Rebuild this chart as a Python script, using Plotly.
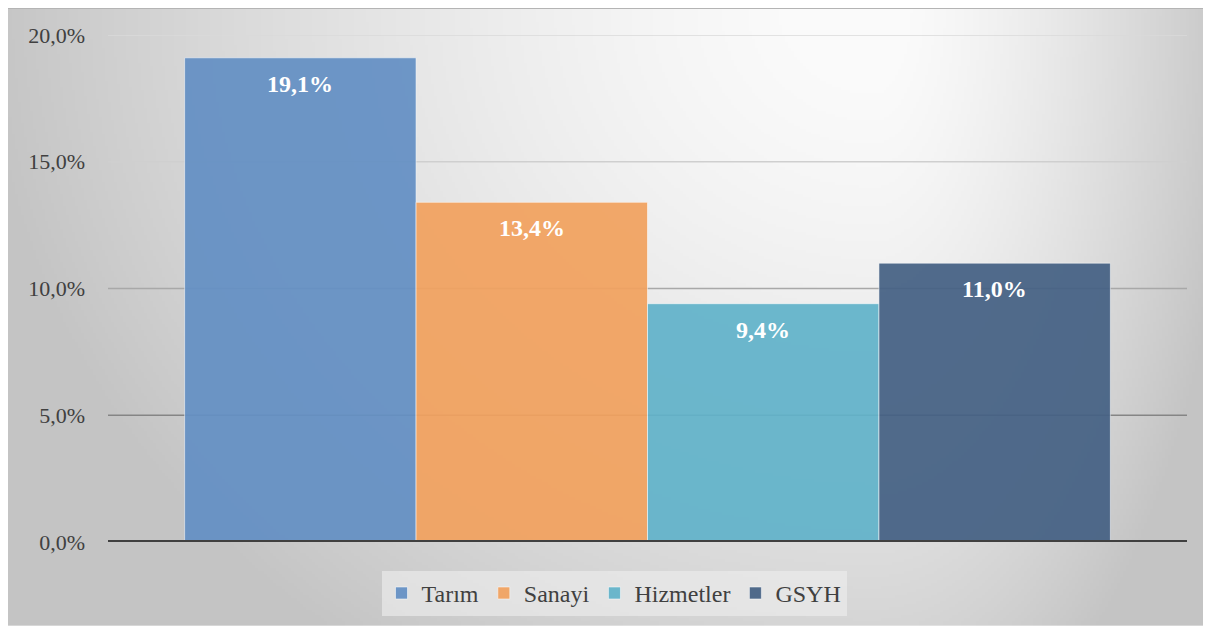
import base64
import math
import struct
import zlib

import plotly.graph_objects as go

# data
sectors = ['Tarım', 'Sanayi', 'Hizmetler', 'GSYH']
growth = [19.1, 13.4, 9.4, 11.0]
labels = ['19,1%', '13,4%', '9,4%', '11,0%']
colors = ['#6490c4', '#f2a25f', '#62b3ca', '#456184']
tick_vals = [0, 5, 10, 15, 20]
tick_text = ['0,0%', '5,0%', '10,0%', '15,0%', '20,0%']
grid_colors = {5: '#858585', 10: '#a8a8a8', 15: '#cfcfcf', 20: '#dadada'}

SERIF = 'Liberation Serif'

# the page puts the figure 8px in from the top-left corner
W, H = 1203, 620
L, R, T, B = 100, 24, 27, 84
pw, ph = W - L - R, H - T - B


def gradient_png(w, h):
    # grey radial-ish background like the excel chart area
    rows = []
    cx, cy = 0.72, 0.0
    for j in range(h):
        v = j / (h - 1)
        row = bytearray([0])
        for i in range(w):
            u = i / (w - 1)
            rx = 0.78 if u < cx else 0.32
            d = math.sqrt(((u - cx) / rx) ** 2 + ((v - cy) / 1.35) ** 2)
            val = 252 - 60 * d ** 1.5
            val = max(196, min(250, val))
            row.append(int(val))
        rows.append(bytes(row))
    raw = b''.join(rows)

    def chunk(tag, data):
        c = tag + data
        return struct.pack('>I', len(data)) + c + struct.pack('>I', zlib.crc32(c) & 0xffffffff)

    png = b'\x89PNG\r\n\x1a\n'
    png += chunk(b'IHDR', struct.pack('>IIBBBBB', w, h, 8, 0, 0, 0, 0))
    png += chunk(b'IDAT', zlib.compress(raw, 9))
    png += chunk(b'IEND', b'')
    return 'data:image/png;base64,' + base64.b64encode(png).decode()


fig = go.Figure()
for name, val, col in zip(sectors, growth, colors):
    fig.add_trace(go.Bar(
        x=[''], y=[val], name=name,
        marker=dict(color=col, line=dict(color='rgba(255,255,255,0.55)', width=1)),
        opacity=0.93,
        hoverinfo='skip',
    ))

# value labels inside the top of each bar; bar centres in paper coords
gap = 0.142
gw = (1 - gap) / len(growth)
for k, (val, lab) in enumerate(zip(growth, labels)):
    fig.add_annotation(
        x=gap / 2 + gw * (k + 0.5), xref='paper', xanchor='center',
        y=val, yref='y', yanchor='middle',
        text='<b>' + lab + '</b>', showarrow=False, yshift=-26,
        font=dict(family=SERIF, size=24, color='white'),
    )

# graded gridlines
shapes = []
for t in tick_vals[1:]:
    shapes.append(dict(type='line', xref='paper', yref='y', x0=0, x1=1, y0=t, y1=t,
                       line=dict(color=grid_colors[t], width=1.5), layer='below'))
# zero line
shapes.append(dict(type='line', xref='paper', yref='y', x0=0, x1=1, y0=0, y1=0,
                   line=dict(color='#404040', width=4), layer='above'))
# top frame edge
top_y = (H - B) / ph
shapes.append(dict(type='line', xref='paper', yref='paper', x0=-L / pw, x1=(W - L) / pw,
                   y0=top_y, y1=top_y, line=dict(color='#b4b4b4', width=2), layer='above'))

fig.update_layout(
    width=W, height=H,
    margin=dict(l=L, r=R, t=T, b=B),
    paper_bgcolor='white',
    plot_bgcolor='rgba(0,0,0,0)',
    barmode='group',
    bargap=gap,
    bargroupgap=0,
    shapes=shapes,
    images=[dict(
        source=gradient_png(402, 208),
        xref='paper', yref='paper',
        x=-L / pw, y=top_y,
        sizex=W / pw, sizey=H / ph,
        xanchor='left', yanchor='top',
        sizing='stretch', layer='below',
    )],
    showlegend=True,
    legend=dict(
        orientation='h',
        x=(606 - L) / pw, xanchor='center',
        y=-29 / ph, yanchor='top',
        bgcolor='rgba(236,236,236,0.65)',
        itemclick=False, itemdoubleclick=False,
        traceorder='normal',
    ),
    legend_font=dict(family=SERIF, size=24, color='#404040'),
    font=dict(family=SERIF, color='#404040'),
)

fig.update_xaxes(showticklabels=False, showgrid=False, zeroline=False, fixedrange=True)
fig.update_yaxes(
    range=[0, 20],
    tickvals=tick_vals,
    ticktext=tick_text,
    showgrid=False,
    zeroline=False,
    ticklabelstandoff=22,
    tickfont=dict(family=SERIF, size=22, color='#404040'),
    fixedrange=True,
)

fig.write_html('out.html')
